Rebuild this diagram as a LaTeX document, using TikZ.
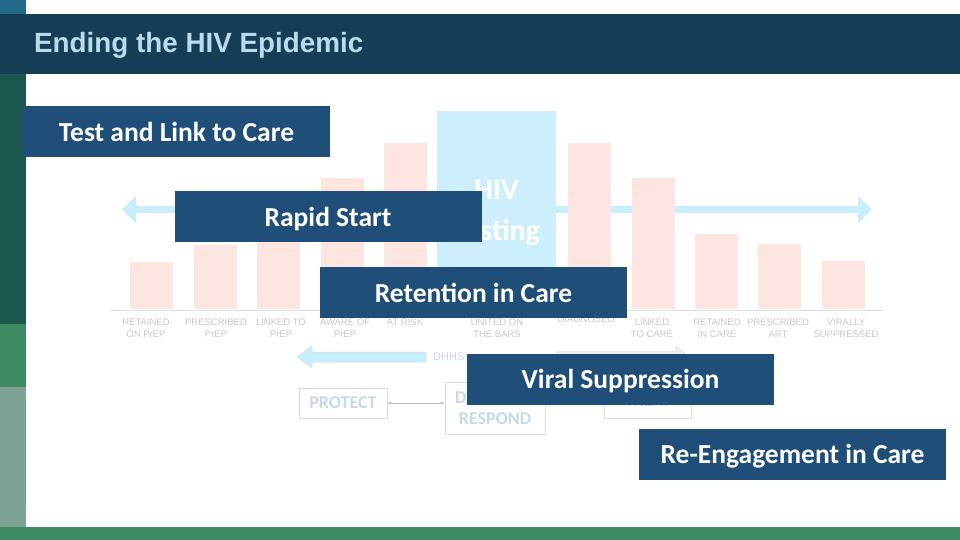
\documentclass[tikz,border=0pt]{standalone}
\usepackage{xcolor}
\usepackage{fontspec}
\setmainfont{Carlito}
\newfontfamily\titlefont{Liberation Sans}
\usepackage{tikz}
\usetikzlibrary{arrows.meta}

\definecolor{hdrblue}{HTML}{163F57}
\definecolor{cornerblue}{HTML}{22698A}
\definecolor{darkgreen}{HTML}{1C574F}
\definecolor{midgreen}{HTML}{3E8A62}
\definecolor{greygreen}{HTML}{7BA293}
\definecolor{titletext}{HTML}{B9DCEA}
\definecolor{boxblue}{HTML}{1F4E79}
\definecolor{barpink}{HTML}{FDE5E1}
\definecolor{testblue}{HTML}{CDEEFB}
\definecolor{arrowblue}{HTML}{C9EEFB}
\definecolor{labelgrey}{HTML}{C8C8C8}
\definecolor{pilltext}{HTML}{C6D8EA}
\definecolor{pillline}{HTML}{D6DDE4}

\begin{document}
\begin{tikzpicture}[x=1pt,y=-1pt,>=Latex,
    stagebox/.style={fill=boxblue, text=white, minimum width=307, minimum height=51,
      inner sep=0pt, text height=22pt, text depth=2.2pt,
      font=\bfseries\fontsize{27.5}{30}\selectfont},
    barlabel/.style={text=labelgrey, align=center, anchor=north, inner sep=0pt,
      font=\titlefont\fontsize{9.5}{11.5}\selectfont},
    pillbox/.style={draw=pillline, text=pilltext, align=center, inner sep=0pt,
      font=\bfseries\fontsize{18}{21}\selectfont}]
    \useasboundingbox (0,0) rectangle (960,540);

    % Frame
    \fill[white] (0,0) rectangle (960,540);
    \fill[cornerblue] (0,0) rectangle (26,14);
    \fill[hdrblue] (0,14) rectangle (960,74);
    \fill[darkgreen] (0,74) rectangle (26,324);
    \fill[midgreen] (0,324) rectangle (26,387);
    \fill[greygreen] (0,387) rectangle (26,527);
    \fill[midgreen] (0,527) rectangle (960,540);
    \node[anchor=west, inner sep=0pt, text=titletext,
      font=\titlefont\bfseries\fontsize{27.8}{32}\selectfont] (title) at (34,45)
      {Ending the HIV Epidemic};

    % Faded care continuum
    \draw[arrowblue, line width=7.5pt,
      {Triangle[length=14pt,width=27pt]}-{Triangle[length=14pt,width=27pt]}]
      (122,209.5) -- (872,209.5);
    \foreach \bx/\btop in {130/262,194/245,257/215,321/178,384/143,
                           568/143,632/178,695/234,758/244,822/261}
      \fill[barpink] (\bx,\btop) rectangle ({\bx+43},309);
    \fill[testblue] (437,111) rectangle (556,309);
    \node[text=white, align=center, font=\bfseries\fontsize{30}{41}\selectfont]
      (testing) at (496.5,213) {HIV\\Testing};
    \draw[black!12] (110,310) -- (883,310);

    % Bar labels
    \node[barlabel] (lretprep) at (146,319) {RETAINED\\ON PrEP};
    \node[barlabel] (lpresprep) at (216,319) {PRESCRIBED\\PrEP};
    \node[barlabel] (llinkprep) at (281,319) {LINKED TO\\PrEP};
    \node[barlabel] (lawprep) at (345,319) {AWARE OF\\PrEP};
    \node[barlabel] (lrisk) at (405,319) {AT RISK};
    \node[barlabel] (lbars) at (497,319) {UNITED ON\\THE BARS};
    \node[barlabel] (ldiag) at (586,316) {DIAGNOSED};
    \node[barlabel] (llinkcare) at (652,319) {LINKED\\TO CARE};
    \node[barlabel] (lretcare) at (717,319) {RETAINED\\IN CARE};
    \node[barlabel] (lart) at (778,319) {PRESCRIBED\\ART};
    \node[barlabel] (lvs) at (846,319) {VIRALLY\\SUPPRESSED};

    % Faded strategy row
    \draw[fill=arrowblue, draw=pillline, line width=0.5pt]
      (426,352) -- (312,352) -- (312,346) -- (297,357) -- (312,368)
      -- (312,362) -- (426,362) -- cycle;
    \draw[fill=black!6, draw=pillline, line width=0.5pt]
      (557,351) -- (676,351) -- (676,346) -- (690,358) -- (676,370)
      -- (676,365) -- (557,365) -- cycle;
    \node[anchor=west, inner sep=0pt, text=pilltext,
      font=\titlefont\fontsize{11}{13}\selectfont] (dhhs) at (433,357) {DHHS};
    \node[pillbox, minimum width=88, minimum height=30] (protect) at (343,403) {PROTECT};
    \node[pillbox, minimum width=100, minimum height=52] (respond) at (495,408)
      {DIAGNOSE\\RESPOND};
    \node[pillbox, minimum width=87, minimum height=34] (treat) at (647.5,401) {TREAT};
    \draw[black!25, thin, {Latex[length=4pt,width=3pt]}-{Latex[length=4pt,width=3pt]}]
      (protect.east) -- (protect.east -| respond.west);

    % Stage boxes
    \node[stagebox] (testlink) at (176.5,132) {Test and Link to Care};
    \node[stagebox] (rapid) at (328,216.5) {Rapid Start};
    \node[stagebox] (retention) at (473.5,292.5) {Retention in Care};
    \node[stagebox] (viral) at (620.5,379) {Viral Suppression};
    \node[stagebox] (reengage) at (792.5,454) {Re-Engagement in Care};
\end{tikzpicture}
\end{document}
